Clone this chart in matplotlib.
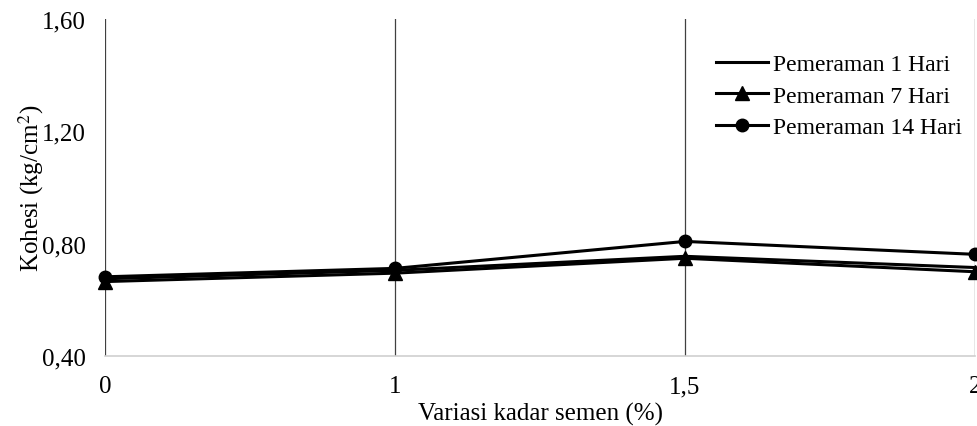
import matplotlib
matplotlib.use("Agg")
import matplotlib.pyplot as plt
from matplotlib.ticker import FuncFormatter

categories = ["0", "1", "1,5", "2"]
hari_1 = [0.675, 0.705, 0.755, 0.715]
hari_7 = [0.665, 0.695, 0.748, 0.700]
hari_14 = [0.682, 0.712, 0.808, 0.762]
y_ticks = [0.40, 0.80, 1.20, 1.60]

plt.rcParams['font.family'] = ['Liberation Serif', 'DejaVu Serif']
plt.rcParams['mathtext.fontset'] = 'stix'
FS = 18

fig = plt.figure(figsize=(9.77, 4.27), dpi=100)
ax = fig.add_axes([105/977, 1 - 357/427, 870/977, 337/427])

x = list(range(len(categories)))
ax.plot(x, hari_1, color='black', lw=2.2, label='Pemeraman 1 Hari', clip_on=False, zorder=3)
ax.plot(x, hari_7, color='black', lw=2.2, marker='^', ms=10, label='Pemeraman 7 Hari', clip_on=False, zorder=3)
ax.plot(x, hari_14, color='black', lw=2.2, marker='o', ms=9, label='Pemeraman 14 Hari', clip_on=False, zorder=3)

ax.set_xlim(0, len(categories) - 1)
ax.set_ylim(0.40, 1.60)
ax.set_xticks(x)
ax.set_xticklabels(categories)
ax.set_yticks(y_ticks)
ax.yaxis.set_major_formatter(FuncFormatter(lambda v, p: f"{v:.2f}".replace('.', ',')))
ax.tick_params(axis='both', length=0, labelsize=FS, colors='black')
ax.tick_params(axis='x', pad=14)
ax.tick_params(axis='y', pad=14)

ax.grid(axis='x', color='#404040', lw=0.9, zorder=0)
ax.grid(axis='y', visible=False)
for s in ['top', 'right', 'left']:
    ax.spines[s].set_visible(False)
ax.spines['bottom'].set_color('#d0d0d0')
ax.spines['bottom'].set_linewidth(1.2)

ax.set_xlabel('Variasi kadar semen (%)', fontsize=FS, labelpad=3)
ax.set_ylabel('Kohesi (kg/cm$^{\\mathrm{2}}$)', fontsize=FS, labelpad=-3)

leg = ax.legend(loc='upper right', bbox_to_anchor=(0.985, 0.897), frameon=False, fontsize=17,
                handlelength=2.2, handletextpad=0.2, labelspacing=0.42,
                borderaxespad=0, borderpad=0)

fig.savefig('out.png', dpi=100)
